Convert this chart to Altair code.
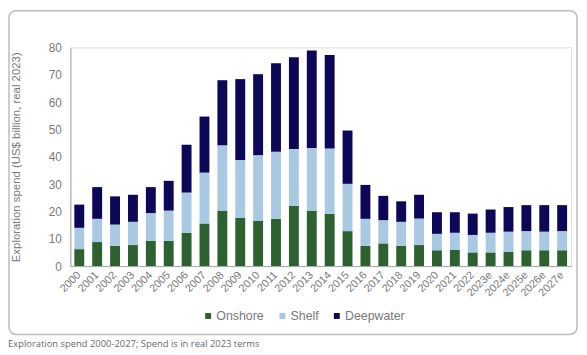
import altair as alt
import pandas as pd

years = ["2000", "2001", "2002", "2003", "2004", "2005", "2006", "2007", "2008", "2009",
         "2010", "2011", "2012", "2013", "2014", "2015", "2016", "2017", "2018", "2019",
         "2020", "2021", "2022", "2023e", "2024e", "2025e", "2026e", "2027e"]
onshore = [6.2, 8.8, 7.4, 7.7, 9.2, 9.2, 12.2, 15.6, 20.3, 17.6, 16.5, 17.3, 22.1, 20.3, 19.1,
           12.8, 7.4, 8.3, 7.4, 7.7, 5.8, 6.0, 5.0, 5.0, 5.3, 5.8, 5.8, 5.8]
shelf = [7.8, 8.5, 7.8, 8.5, 10.2, 11.1, 14.7, 18.6, 23.9, 21.2, 24.1, 24.5, 20.7, 22.9, 23.9,
         17.3, 9.9, 8.5, 8.8, 9.7, 6.0, 6.2, 6.4, 7.2, 7.3, 7.0, 6.8, 7.0]
deepwater = [8.5, 11.6, 10.3, 9.9, 9.5, 10.9, 17.5, 20.5, 23.8, 29.6, 29.6, 32.4, 33.6, 35.7, 34.2,
             19.5, 12.4, 8.9, 7.5, 8.7, 7.9, 7.5, 7.8, 8.5, 9.0, 9.5, 9.7, 9.5]
series = ["Onshore", "Shelf", "Deepwater"]
colors = ["#2e6130", "#a9c9e2", "#0c0757"]
y_ticks = [0, 10, 20, 30, 40, 50, 60, 70, 80]
caption = "Exploration spend 2000-2027; Spend is in real 2023 terms"

rows = []
for i, y in enumerate(years):
    for k, (name, vals) in enumerate(zip(series, [onshore, shelf, deepwater])):
        rows.append({"year": y, "series": name, "value": vals[i], "ord": k})
df = pd.DataFrame(rows)

W, H = 506, 221
grey = "#7a7a7a"
FONT = "Liberation Sans"

card = alt.Chart(pd.DataFrame({"a": [0]})).mark_rect(
    fill="transparent", stroke="#bdbdbd", strokeWidth=1.5, cornerRadius=7
).encode(
    x=alt.value(-62), x2=alt.value(512), y=alt.value(-37), y2=alt.value(290)
)

bars = alt.Chart(df).mark_bar(size=10).encode(
    x=alt.X("year:N", sort=years, title=None,
            scale=alt.Scale(paddingInner=0.44, paddingOuter=0.22),
            axis=alt.Axis(labelAngle=-45, labelColor=grey, labelFontSize=11, labelFont=FONT,
                          domainColor="#a6a6a6", ticks=False, labelPadding=7,
                          labelAlign="right", labelBaseline="middle", zindex=1)),
    y=alt.Y("value:Q", stack="zero",
            scale=alt.Scale(domain=[0, 80], nice=False),
            axis=alt.Axis(values=y_ticks, grid=False, ticks=False, labelColor=grey,
                          labelFontSize=12, labelFont=FONT, labelPadding=9,
                          domainColor="#a6a6a6", zindex=1,
                          title="Exploration spend (US$ billion, real 2023)",
                          titleColor=grey, titleFont=FONT, titleFontSize=11.5,
                          titleFontWeight="normal", titlePadding=27)),
    color=alt.Color("series:N", sort=series,
                    scale=alt.Scale(domain=series, range=colors),
                    legend=alt.Legend(orient="none", legendX=133, legendY=265,
                                      direction="horizontal", title=None,
                                      symbolType="square", symbolSize=36,
                                      symbolStrokeWidth=0,
                                      labelFont=FONT, labelFontSize=12.5, labelColor=grey,
                                      columnPadding=12, labelOffset=2)),
    order=alt.Order("ord:Q", sort="ascending"),
)

cap = alt.Chart(pd.DataFrame({"t": [caption]})).mark_text(
    align="left", baseline="middle", font="Open Sans", fontSize=9.5, color="#6b6b6b"
).encode(x=alt.value(-63), y=alt.value(300), text="t:N")

chart = alt.layer(card, bars, cap).properties(
    width=W, height=H,
    autosize=alt.AutoSizeParams(type="none"),
    padding={"left": 63, "top": 38, "right": 8, "bottom": 87},
).configure_view(stroke=None).configure(background="white")

chart.save("out.html", embed_options={"renderer": "svg", "actions": False})
